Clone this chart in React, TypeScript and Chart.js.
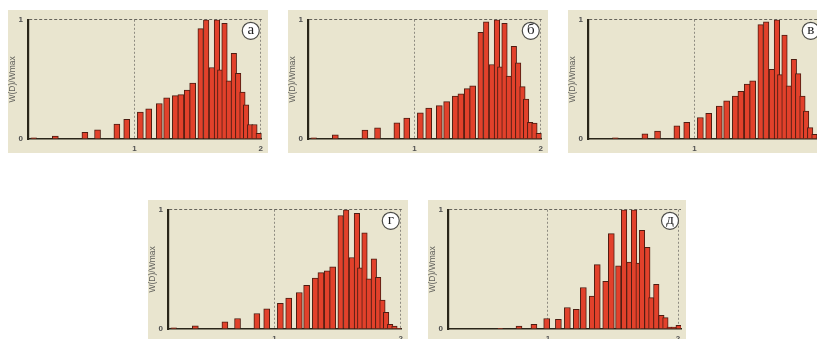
import React, { useEffect, useRef } from "react";
import { Chart, registerables } from "chart.js";

Chart.register(...registerables);

// Bin centres (D) shared by panels а–г
const binCenters = [
  0.203, 0.374, 0.608, 0.708, 0.861, 0.939, 1.047, 1.113, 1.197, 1.255, 1.324, 1.368, 1.418, 1.461,
  1.524, 1.568, 1.613, 1.653, 1.679, 1.713, 1.747, 1.787, 1.821, 1.855, 1.884, 1.916, 1.95, 1.984,
];

const valuesA = [
  0.01, 0.025, 0.055, 0.077, 0.125, 0.165, 0.226, 0.253, 0.298, 0.346, 0.364, 0.372, 0.41, 0.47,
  0.926, 1.0, 0.6, 1.0, 0.58, 0.97, 0.487, 0.718, 0.55, 0.394, 0.287, 0.122, 0.122, 0.048,
];

const valuesB = [
  0.01, 0.035, 0.075, 0.093, 0.136, 0.176, 0.22, 0.26, 0.28, 0.314, 0.36, 0.378, 0.423, 0.447,
  0.894, 0.984, 0.625, 1.0, 0.606, 0.97, 0.527, 0.777, 0.64, 0.44, 0.335, 0.14, 0.133, 0.048,
];

const valuesV = [
  0, 0.01, 0.043, 0.066, 0.11, 0.14, 0.18, 0.215, 0.277, 0.32, 0.36, 0.4, 0.46, 0.487,
  0.96, 0.984, 0.585, 1.0, 0.54, 0.872, 0.447, 0.668, 0.548, 0.36, 0.234, 0.096, 0.04, 0.01,
];

const valuesG = [
  0.01, 0.027, 0.061, 0.088, 0.13, 0.17, 0.215, 0.26, 0.306, 0.367, 0.428, 0.473, 0.489, 0.521,
  0.952, 1.0, 0.6, 0.97, 0.513, 0.806, 0.42, 0.588, 0.434, 0.242, 0.14, 0.04, 0.024, 0.005,
];

// Panel д uses its own bins
const binCentersD = [
  0.633, 0.777, 0.892, 0.99, 1.08, 1.149, 1.218, 1.272, 1.341, 1.379, 1.444, 1.487, 1.541,
  1.585, 1.626, 1.662, 1.697, 1.723, 1.764, 1.795, 1.833, 1.872, 1.903, 1.936, 1.967, 2.005,
];

const valuesD = [
  0.005, 0.024, 0.04, 0.088, 0.082, 0.18, 0.165, 0.348, 0.277, 0.54, 0.4, 0.8, 0.53,
  1.0, 0.561, 1.0, 0.553, 0.827, 0.686, 0.263, 0.375, 0.114, 0.096, 0.016, 0.016, 0.03,
];

const xTickValues = [1, 2];
const yTickValues = [0, 1];
const yTitle = "W(D)/Wmax";

const PANEL_BG = "#E9E5CF";
const BAR_FILL = "#E2412B";
const BAR_EDGE = "#4E1D12";
const AXIS_DARK = "#2A261A";
const GRID_GRAY = "#8E8B80";

type PanelProps = {
  left: number;
  top: number;
  width: number;
  height: number;
  centers: number[];
  values: number[];
  xMin: number;
  xMax: number;
  letter: string;
};

const letterBadge = {
  id: "letterBadge",
  afterDraw(chart: any, _args: any, opts: any) {
    const { ctx, chartArea } = chart;
    const cx = chartArea.right - 11;
    const cy = chartArea.top + 11;
    ctx.save();
    ctx.beginPath();
    ctx.arc(cx, cy, 8.5, 0, Math.PI * 2);
    ctx.fillStyle = "#ffffff";
    ctx.fill();
    ctx.lineWidth = 1.2;
    ctx.strokeStyle = "#4A4A46";
    ctx.stroke();
    ctx.fillStyle = "#222";
    ctx.font = '15px "Liberation Serif", "DejaVu Serif", serif';
    ctx.textAlign = "center";
    ctx.textBaseline = "middle";
    ctx.fillText(opts.text, cx, cy - 1);
    ctx.restore();
  },
};

function Histogram({ left, top, width, height, centers, values, xMin, xMax, letter }: PanelProps) {
  const ref = useRef<HTMLCanvasElement>(null);

  useEffect(() => {
    const points = centers.map((x, i) => ({ x, y: values[i] }));
    const wide = points.filter((p) => p.x < 1.5);
    const narrow = points.filter((p) => p.x >= 1.5);
    const barStyle = {
      backgroundColor: BAR_FILL,
      borderColor: BAR_EDGE,
      borderWidth: 1,
      stack: "h",
    };
    const tickFont = { family: '"Liberation Sans", Arial, sans-serif', size: 8, weight: "bold" };
    const chart = new Chart(ref.current as HTMLCanvasElement, {
      type: "bar",
      data: {
        datasets: [
          { ...barStyle, data: wide, barThickness: 6 } as any,
          { ...barStyle, data: narrow, barThickness: 5.5 } as any,
        ],
      },
      plugins: [letterBadge],
      options: {
        animation: false,
        responsive: false,
        maintainAspectRatio: false,
        devicePixelRatio: 1,
        layout: { padding: { left: 0, top: 4, right: 5, bottom: 0 } },
        plugins: {
          legend: { display: false },
          tooltip: { enabled: false },
          letterBadge: { text: letter },
        } as any,
        scales: {
          x: {
            type: "linear",
            min: xMin,
            max: xMax,
            offset: false,
            afterFit: (s: any) => {
              s.height = 14;
            },
            afterBuildTicks: (s: any) => {
              s.ticks = xTickValues.map((value) => ({ value }));
            },
            ticks: {
              autoSkip: false,
              maxRotation: 0,
              padding: 5,
              color: "#505050",
              font: tickFont,
              callback: (v: any) => String(v),
            },
            grid: {
              offset: false,
              drawTicks: false,
              color: GRID_GRAY,
              lineWidth: 1,
            },
            border: { display: true, color: AXIS_DARK, width: 1.5, dash: [2, 2] },
          },
          y: {
            type: "linear",
            min: 0,
            max: 1,
            stacked: false,
            afterFit: (s: any) => {
              s.width = 20;
            },
            afterBuildTicks: (s: any) => {
              s.ticks = yTickValues.map((value) => ({ value }));
            },
            ticks: {
              padding: 5,
              color: "#505050",
              font: tickFont,
              callback: (v: any) => String(v),
            },
            grid: {
              drawTicks: false,
              color: (c: any) => (c.tick && c.tick.value === 0 ? "rgba(0,0,0,0)" : "#66645C"),
              lineWidth: 1,
            },
            border: { display: true, color: AXIS_DARK, width: 2.2, dash: [3, 2] },
            title: {
              display: true,
              text: yTitle,
              color: "#5C5C58",
              padding: 0,
              font: { family: '"Liberation Sans", Arial, sans-serif', size: 8.5 },
            },
          },
        },
      } as any,
    });
    return () => chart.destroy();
  }, []);

  return (
    <div
      style={{
        position: "absolute",
        left,
        top,
        width,
        height,
        background: PANEL_BG,
      }}
    >
      <canvas ref={ref} width={width} height={height} style={{ display: "block" }} />
    </div>
  );
}

export default function App() {
  return (
    <div
      style={{
        position: "fixed",
        left: 0,
        top: 0,
        width: 817,
        height: 339,
        overflow: "hidden",
        background: "#ffffff",
      }}
    >
      <Histogram left={8} top={10} width={260} height={143} centers={binCenters} values={valuesA} xMin={0.1575} xMax={2.008} letter="а" />
      <Histogram left={288} top={10} width={260} height={143} centers={binCenters} values={valuesB} xMin={0.1575} xMax={2.008} letter="б" />
      <Histogram left={568} top={10} width={260} height={143} centers={binCenters} values={valuesV} xMin={0.1575} xMax={2.008} letter="в" />
      <Histogram left={148} top={200} width={260} height={143} centers={binCenters} values={valuesG} xMin={0.1575} xMax={2.008} letter="г" />
      <Histogram left={428} top={200} width={258} height={143} centers={binCentersD} values={valuesD} xMin={0.231} xMax={2.023} letter="д" />
    </div>
  );
}
